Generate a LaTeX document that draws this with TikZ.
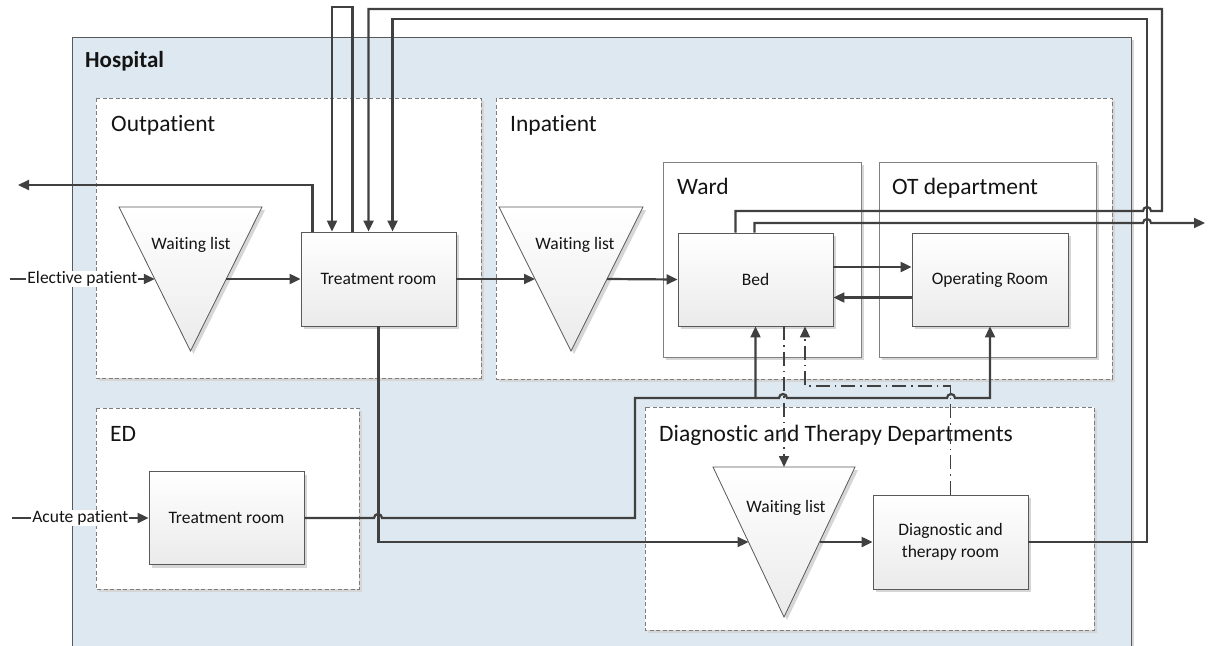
\documentclass[tikz,border=0pt]{standalone}
\usepackage{fontspec}
\setmainfont{Carlito}[Ligatures=NoCommon]
\usetikzlibrary{arrows.meta,shadows}

\definecolor{hospfill}{RGB}{222,232,241}
\definecolor{linec}{RGB}{64,64,64}
\definecolor{framec}{RGB}{89,89,89}
\definecolor{dashc}{RGB}{125,125,125}
\definecolor{shadowc}{RGB}{214,214,214}
\definecolor{textc}{RGB}{20,20,20}

\tikzset{
  sh/.style={general shadow={shadow xshift=3pt, shadow yshift=-3pt, fill=shadowc}},
  hospital/.style={draw=framec, line width=0.9pt, fill=hospfill, sh},
  unitbox/.style={draw=dashc, line width=0.8pt, dash pattern=on 4pt off 2.5pt, fill=white, sh},
  deptbox/.style={draw=black!50, line width=0.8pt, fill=white, sh},
  room/.style={draw=framec, line width=0.9pt, top color=white, bottom color=black!8, sh,
    inner sep=0pt, font=\fontsize{17.5}{22}\selectfont, text=textc, align=center},
  tri/.style={draw=framec, line width=0.8pt, top color=white, bottom color=black!8, sh},
  trilabel/.style={font=\fontsize{17.5}{21}\selectfont, text=textc, anchor=base, inner sep=0pt},
  title/.style={font=\fontsize{23.5}{28}\selectfont, text=textc, anchor=base west, inner sep=0pt},
  tip/.style={-{Triangle[length=11pt,width=10pt]}},
  flow/.style={draw=linec, line width=2.2pt, line join=miter},
  info/.style={draw=linec, line width=1.8pt, dash pattern=on 14pt off 5pt on 1.5pt off 5pt},
  inlabel/.style={fill=white, inner sep=1pt, font=\fontsize{17.5}{21}\selectfont, text=textc},
}

\begin{document}
\begin{tikzpicture}[x=1pt,y=-1pt]
\useasboundingbox (0,0) rectangle (1209,645);
\clip (0,0) rectangle (1209,645);

% ---- containers ----
\draw[hospital] (72,37) rectangle (1131,680);
\node[title, font=\bfseries\fontsize{23}{27}\selectfont] (hosp) at (85,67) {Hospital};

\draw[unitbox] (96,98) rectangle (481,378);
\node[title] (outp) at (111,131) {Outpatient};
\draw[unitbox] (496,98) rectangle (1112,379);
\node[title] (inp) at (510,131) {Inpatient};
\draw[unitbox] (96,408) rectangle (359,589);
\node[title] (ed) at (110,441) {ED};
\draw[unitbox] (645,407) rectangle (1094,630);
\node[title] (dtd) at (659,441) {Diagnostic and Therapy Departments};

\draw[deptbox] (663,162) rectangle (861,357);
\node[title] (ward) at (677,194) {Ward};
\draw[deptbox] (879,162) rectangle (1096,357);
\node[title] (otd) at (892,194) {OT department};

% ---- waiting lists ----
\draw[tri] (119,207) -- (262,207) -- (190.5,351) -- cycle;
\node[trilabel] (wl1) at (191,249) {Waiting list};
\coordinate (wl1l) at (154.75,279);
\coordinate (wl1r) at (226.25,279);

\draw[tri] (499,207) -- (643,207) -- (571,351) -- cycle;
\node[trilabel] (wl2) at (575,249) {Waiting list};
\coordinate (wl2l) at (535,279);
\coordinate (wl2r) at (607,279);

\draw[tri] (713,467) -- (855,467) -- (784,617) -- cycle;
\node[trilabel] (wl3) at (786,512) {Waiting list};
\coordinate (wl3l) at (748.5,542);
\coordinate (wl3r) at (819.5,542);
\coordinate (wl3t) at (784,467);

% ---- rooms ----
\node[room, minimum width=155pt, minimum height=94pt] (tr1) at (378.5,279) {Treatment room};
\node[room, minimum width=155pt, minimum height=93pt] (tr2) at (226.5,518) {Treatment room};
\node[room, minimum width=155pt, minimum height=93pt] (bed) at (755.5,279.5) {Bed};
\node[room, minimum width=156pt, minimum height=93pt] (orr) at (990,279.5) {Operating Room};
\node[room, minimum width=155pt, minimum height=94pt] (dtr) at (950.5,542) {Diagnostic and\\therapy room};

% ---- free ends and route corners ----
\coordinate (elin) at (10,279);
\coordinate (acin) at (12,518);
\coordinate (dis1) at (18,185);
\coordinate (dis2) at (1205,223);
\coordinate (loop) at (332,7);
\coordinate (back1) at (1162,9);
\coordinate (back2) at (1147,19);
\coordinate (edup) at (635,398);
\coordinate (dtlink) at (805,386);

% ---- patient flows ----
\draw[flow, tip] (elin) -- node[inlabel] {Elective patient} (wl1l);
\draw[flow, tip] (wl1r) -- (tr1.west);
\draw[flow, tip] ([xshift=12]tr1.north west) |- (dis1);
\draw[flow, tip] ([xshift=52]tr1.north west) |- (loop) -- (loop |- tr1.north);
\draw[flow, tip] (tr1.east) -- (wl2l);
\draw[flow, tip] (wl2r) -- (bed.west);
\draw[flow, tip] ([yshift=12.5]bed.east) -- ([yshift=12.5]orr.west);
\draw[flow, tip] ([yshift=-18]orr.west) -- ([yshift=-18]bed.east);

% bed back to outpatient treatment, and discharge
\draw[flow, tip] ([xshift=58]bed.north west) |- (1143,211)
  arc[start angle=180, end angle=0, radius=4pt] -- (back1 |- 0,211) |- (back1)
  -- ([xshift=68]tr1.north west |- back1) -- ([xshift=68]tr1.north west);
\draw[flow, tip] ([xshift=77]bed.north west) |- (1143,223)
  arc[start angle=180, end angle=0, radius=4pt] -- (dis2);

% diagnostic room back to outpatient treatment
\draw[flow, tip] (dtr.east) -| (back2) -- ([xshift=92]tr1.north west |- back2)
  -- ([xshift=92]tr1.north west);

% acute patients
\draw[flow, tip] (acin) -- node[inlabel] {Acute patient} (tr2.west);
\draw[flow, tip] (tr2.east) -- (374,518) arc[start angle=180, end angle=0, radius=4pt]
  -- (edup |- 0,518) -- (edup) -- (bed.south |- edup) -- (bed.south);
\draw[flow, tip] (bed.south |- edup) -- (779,398) arc[start angle=180, end angle=0, radius=4pt]
  -- (947,398) arc[start angle=180, end angle=0, radius=4pt] -- (orr.south |- edup) -- (orr.south);

% outpatient treatment to diagnostics
\draw[flow, tip] (tr1.south) |- (wl3l);
\draw[flow, tip] (wl3r) -- (dtr.west);

% ---- information links ----
\draw[info, tip] (bed.south -| wl3t) -- (wl3t);
\draw[info, tip] (dtr.north) |- (dtlink) -- (bed.south -| dtlink);

\end{tikzpicture}
\end{document}
